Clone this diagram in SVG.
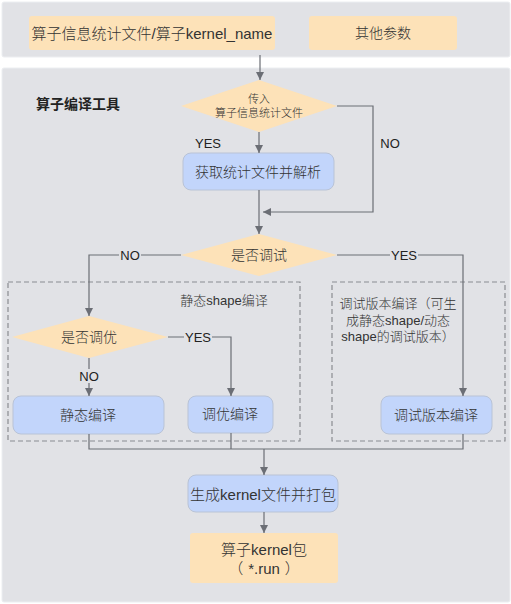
<svg xmlns="http://www.w3.org/2000/svg" width="511" height="604" viewBox="0 0 511 604">
<defs>
<style>
.panel{fill:#e1e2e6;stroke:#eceef1;stroke-width:1}
.peach{fill:#fde2b8}
.blue{fill:#c2d5fb;stroke:#b9c3d6;stroke-width:1}
.dash{fill:none;stroke:#8a8c91;stroke-width:1.2;stroke-dasharray:5,3}
.ln{fill:none;stroke:#6b6e75;stroke-width:1.2}
text{font-family:"Liberation Sans","Noto Sans CJK SC",sans-serif;font-weight:300;fill:#333;text-anchor:middle;dominant-baseline:central;text-spacing-trim:space-all}
.t15{font-size:15px}
.t14{font-size:14px}
.t13{font-size:13px}
.t11{font-size:11px}
.lbl{font-size:13px;fill:#222}
</style>
<marker id="ah" viewBox="0 0 10 10" refX="10" refY="5" markerWidth="8" markerHeight="8" markerUnits="userSpaceOnUse" orient="auto">
<path d="M0,0 L10,5 L0,10 z" fill="#6b6e75"/>
</marker>
</defs>
<rect class="panel" x="2" y="2" width="508" height="55" rx="2"/>
<rect class="panel" x="2" y="68" width="508" height="534" rx="2"/>
<g id="input1"><rect class="peach" x="29" y="16" width="246" height="34" rx="3"/><text class="t15" x="152" y="33">算子信息统计文件/算子kernel_name</text></g>
<g id="input2"><rect class="peach" x="309" y="16" width="148" height="34" rx="3"/><text class="t14" x="383" y="33">其他参数</text></g>
<text x="78" y="104" style="font-size:14px;font-weight:bold;fill:#222">算子编译工具</text>
<g id="d1"><polygon class="peach" points="259,80 337,106 259,132 181,106"/><text class="t11" x="259" y="99">传入</text><text class="t11" x="259" y="113">算子信息统计文件</text></g>
<g id="parse"><rect class="blue" x="183" y="153" width="151" height="37" rx="8"/><text class="t14" x="258" y="172">获取统计文件并解析</text></g>
<g id="d2"><polygon class="peach" points="259,234 337,255 259,276 181,255"/><text class="t14" x="259" y="255">是否调试</text></g>
<g id="grpStatic"><rect class="dash" x="8" y="282" width="292" height="159"/><text class="t13" x="224" y="300">静态shape编译</text></g>
<g id="grpDebug"><rect class="dash" x="332" y="282" width="173" height="159"/><text class="t13" x="398" y="303">调试版本编译（可生</text><text class="t13" x="398" y="320">成静态shape/动态</text><text class="t13" x="398" y="336">shape的调试版本）</text></g>
<g id="d3"><polygon class="peach" points="89,316 168,337 89,358 12,337"/><text class="t14" x="89" y="337">是否调优</text></g>
<g id="staticC"><rect class="blue" x="13" y="396" width="151" height="38" rx="8"/><text class="t14" x="88" y="415">静态编译</text></g>
<g id="tuneC"><rect class="blue" x="188" y="396" width="85" height="37" rx="8"/><text class="t14" x="230" y="414">调优编译</text></g>
<g id="debugC"><rect class="blue" x="381" y="396" width="111" height="38" rx="8"/><text class="t14" x="436" y="415">调试版本编译</text></g>
<g id="gen"><rect class="blue" x="188" y="475" width="150" height="37" rx="8"/><text class="t15" x="263" y="494">生成kernel文件并打包</text></g>
<g id="pkg"><rect class="peach" x="190" y="533" width="148" height="50" rx="3"/><text class="t15" x="264" y="549">算子kernel包</text><text class="t15" x="264" y="568">（<tspan dx="5">*.run</tspan><tspan dx="5">）</tspan></text></g>
<g id="connectors">
<path class="ln" d="M260,55 V80" marker-end="url(#ah)"/>
<path class="ln" d="M259,132 V153" marker-end="url(#ah)"/>
<path class="ln" d="M337,106 H373 V212 H263" marker-end="url(#ah)"/>
<path class="ln" d="M259,190 V234" marker-end="url(#ah)"/>
<path class="ln" d="M181,255 H89 V316" marker-end="url(#ah)"/>
<path class="ln" d="M337,255 H463 V396" marker-end="url(#ah)"/>
<path class="ln" d="M168,337 H231 V396" marker-end="url(#ah)"/>
<path class="ln" d="M89,358 V396" marker-end="url(#ah)"/>
<path class="ln" d="M89,434 V449 H463 V434 M231,433 V449"/>
<path class="ln" d="M264,449 V475" marker-end="url(#ah)"/>
<path class="ln" d="M264,512 V533" marker-end="url(#ah)"/>
<rect x="119" y="248" width="22" height="14" fill="#e1e2e6"/>
<text class="lbl" x="130" y="255">NO</text>
<rect x="390" y="248" width="28" height="14" fill="#e1e2e6"/>
<text class="lbl" x="404" y="255">YES</text>
<rect x="184" y="330" width="28" height="14" fill="#e1e2e6"/>
<text class="lbl" x="198" y="337">YES</text>
<rect x="79" y="369" width="22" height="14" fill="#e1e2e6"/>
<text class="lbl" x="89" y="376">NO</text>
<text class="lbl" x="208" y="143">YES</text>
<text class="lbl" x="390" y="143">NO</text>
</g>
</svg>
